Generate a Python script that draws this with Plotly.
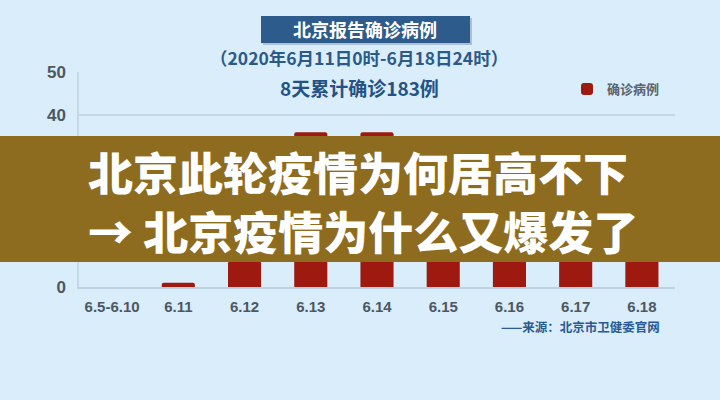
import plotly.graph_objects as go

# ---- data ----
categories = ["6.5-6.10", "6.11", "6.12", "6.13", "6.14", "6.15", "6.16", "6.17", "6.18"]
confirmed = [0, 1, 6, 36, 36, 27, 31, 21, 25]
y_ticks = [0, 10, 20, 30, 40, 50]

title_box = "北京报告确诊病例"
subtitle = "（2020年6月11日0时-6月18日24时）"
total_text = "8天累计确诊183例"
series_name = "确诊病例"
source_text = "——来源：北京市卫健委官网"
banner_line1 = "北京此轮疫情为何居高不下"
banner_line2 = "→ 北京疫情为什么又爆发了"

W, H = 720, 400
BG = "#d9edfa"
BAR = "#9e1a10"
GRID = "#c4d8e6"
TICK = "#4d5763"
CJK = "Noto Sans CJK SC"
LAT = "Liberation Sans, Arial, sans-serif"


def px(x):
    return x / W


def py(y):
    return 1 - y / H


fig = go.Figure()
fig.add_trace(go.Bar(
    x=categories, y=confirmed, name=series_name,
    marker=dict(color=BAR, line=dict(width=0)),
    width=0.5,
))

fig.update_layout(
    width=W, height=H, autosize=False,
    margin=dict(l=0, r=0, t=0, b=0, pad=0, autoexpand=False),
    paper_bgcolor=BG, plot_bgcolor=BG,
    barcornerradius=2,
    showlegend=True,
    legend=dict(
        x=px(567), y=py(89), xanchor="left", yanchor="middle",
        bgcolor="rgba(0,0,0,0)",
        font=dict(family=CJK, size=13, color="#5a636e", weight="bold"),
    ),
    xaxis=dict(
        domain=[px(79), px(675)],
        range=[-0.5, 8.5],
        automargin=False,
        showgrid=False,
        showline=True, linecolor="#bcd2e2", linewidth=1.5,
        ticks="",
        tickfont=dict(family=LAT, size=15, color=TICK, weight="bold"),
        ticklabelstandoff=5,
        fixedrange=True,
    ),
    yaxis=dict(
        domain=[py(287), py(72)],
        range=[0, 50],
        automargin=False,
        tickvals=y_ticks,
        showgrid=True, gridcolor=GRID, gridwidth=1.5,
        zeroline=False,
        showline=True, linecolor=GRID, linewidth=1.5,
        ticks="",
        tickfont=dict(family=LAT, size=17, color=TICK, weight="bold"),
        ticklabelstandoff=8,
        fixedrange=True,
    ),
)

shapes = [
    # title box shadow + box
    dict(type="rect", xref="paper", yref="paper",
         x0=px(263), x1=px(472), y0=py(45), y1=py(18),
         fillcolor="rgba(40,60,90,0.25)", line=dict(width=0), layer="above"),
    dict(type="rect", xref="paper", yref="paper",
         x0=px(261), x1=px(470), y0=py(43), y1=py(16),
         fillcolor="#2d5b8c", line=dict(width=0), layer="above"),
    # overlay banner
    dict(type="rect", xref="paper", yref="paper",
         x0=0, x1=1, y0=py(262), y1=py(136),
         fillcolor="#8d6c1f", line=dict(width=0), layer="above"),
]
fig.update_layout(shapes=shapes)

annotations = [
    dict(text=title_box, x=px(365), y=py(29.5), xref="paper", yref="paper",
         showarrow=False, xanchor="center", yanchor="middle",
         font=dict(family=CJK, size=18, color="white", weight="bold")),
    dict(text=subtitle, x=px(359), y=py(57.5), xref="paper", yref="paper",
         showarrow=False, xanchor="center", yanchor="middle",
         font=dict(family=CJK, size=17.5, color="#2b5989", weight="bold")),
    dict(text=total_text, x=px(359), y=py(87), xref="paper", yref="paper",
         showarrow=False, xanchor="center", yanchor="middle",
         font=dict(family=CJK, size=19, color="#245286", weight="bold")),
    dict(text=source_text, x=px(662), y=py(326), xref="paper", yref="paper",
         showarrow=False, xanchor="right", yanchor="middle",
         font=dict(family=CJK, size=12.5, color="#2a5a95", weight="bold")),
    dict(text=banner_line1 + "<br>" + banner_line2, x=px(86), y=py(201),
         xref="paper", yref="paper", align="left",
         showarrow=False, xanchor="left", yanchor="middle",
         font=dict(family=CJK, size=45, color="white", weight=900)),
]
fig.update_layout(annotations=annotations)

fig.write_html(
    "out.html",
    config=dict(displayModeBar=False, responsive=False),
    post_script="document.body.style.margin='0';document.body.style.overflow='hidden';",
)
